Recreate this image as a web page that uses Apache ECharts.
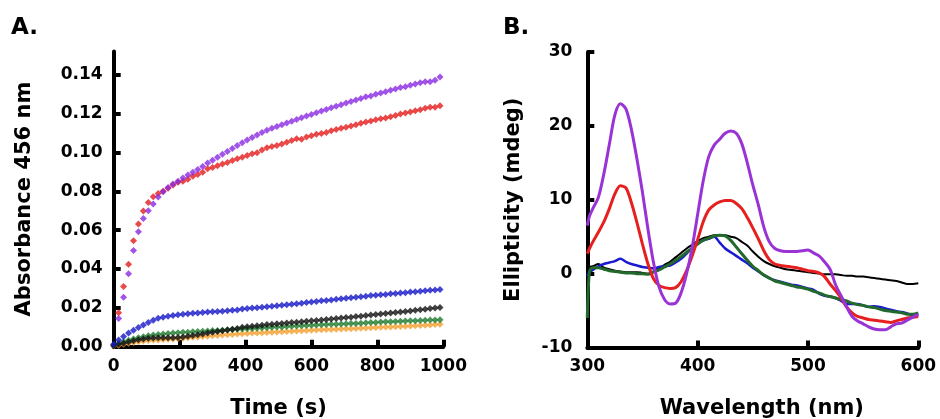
<!DOCTYPE html>
<html>
<head>
<meta charset="utf-8">
<script src="https://cdn.jsdelivr.net/npm/echarts@6/dist/echarts.min.js"></script>
<style>
html,body{margin:0;padding:0;background:#fff;}
#chart{width:940px;height:419px;}
</style>
</head>
<body>
<div id="chart"></div>
<script>
// ---------- Panel A: Absorbance 456 nm vs Time (s) ----------
const timeS = [0,15,30,45,60,75,90,105,120,135,150,165,180,195,210,225,240,255,270,285,300,315,330,345,360,375,390,405,420,435,450,465,480,495,510,525,540,555,570,585,600,615,630,645,660,675,690,705,720,735,750,765,780,795,810,825,840,855,870,885,900,915,930,945,960,975,990];

const absPurple = [null,0.0145,0.0255,0.0375,0.0495,0.0592,0.0660,0.0700,0.0735,0.0770,0.0798,0.0820,0.0838,0.0852,0.0868,0.0884,0.0898,0.0912,0.0928,0.0945,0.0960,0.0975,0.0990,0.1005,0.1020,0.1035,0.1050,0.1064,0.1077,0.1090,0.1102,0.1114,0.1124,0.1134,0.1143,0.1152,0.1160,0.1169,0.1178,0.1187,0.1195,0.1204,0.1213,0.1221,0.1230,0.1238,0.1246,0.1254,0.1262,0.1270,0.1278,0.1286,0.1290,0.1300,0.1306,0.1312,0.1320,0.1326,0.1334,0.1338,0.1346,0.1352,0.1358,0.1364,0.1364,0.1372,0.1388];
const absRed = [null,0.0175,0.0310,0.0425,0.0545,0.0632,0.0698,0.0742,0.0772,0.0788,0.0800,0.0815,0.0832,0.0846,0.0852,0.0862,0.0878,0.0886,0.0898,0.0916,0.0922,0.0931,0.0941,0.0948,0.0959,0.0968,0.0975,0.0984,0.0993,0.0998,0.1013,0.1024,0.1030,0.1036,0.1044,0.1052,0.1062,0.1070,0.1068,0.1079,0.1086,0.1093,0.1097,0.1103,0.1111,0.1118,0.1125,0.1130,0.1136,0.1142,0.1150,0.1156,0.1162,0.1168,0.1173,0.1177,0.1184,0.1190,0.1198,0.1203,0.1208,0.1214,0.1220,0.1228,0.1232,0.1232,0.1240];
const absBlue = [0.0012,0.0035,0.0052,0.0070,0.0085,0.0099,0.0112,0.0124,0.0136,0.0146,0.0152,0.0157,0.0161,0.0164,0.0167,0.0170,0.0172,0.0174,0.0176,0.0178,0.0180,0.0181,0.0183,0.0185,0.0187,0.0189,0.0194,0.0197,0.0199,0.0201,0.0203,0.0206,0.0208,0.0211,0.0213,0.0216,0.0218,0.0221,0.0224,0.0227,0.0230,0.0233,0.0236,0.0238,0.0241,0.0244,0.0247,0.0249,0.0252,0.0255,0.0257,0.0260,0.0263,0.0265,0.0267,0.0269,0.0272,0.0274,0.0276,0.0278,0.0281,0.0283,0.0285,0.0288,0.0290,0.0292,0.0295];
const absBlack = [0.0005,0.0012,0.0018,0.0024,0.0030,0.0036,0.0040,0.0043,0.0045,0.0046,0.0046,0.0046,0.0046,0.0047,0.0050,0.0054,0.0058,0.0062,0.0066,0.0070,0.0074,0.0078,0.0082,0.0086,0.0090,0.0094,0.0100,0.0103,0.0105,0.0108,0.0111,0.0114,0.0116,0.0118,0.0120,0.0122,0.0124,0.0126,0.0128,0.0131,0.0133,0.0135,0.0137,0.0140,0.0142,0.0145,0.0148,0.0150,0.0152,0.0155,0.0157,0.0160,0.0163,0.0166,0.0168,0.0171,0.0173,0.0176,0.0178,0.0181,0.0184,0.0187,0.0190,0.0193,0.0196,0.0199,0.0202];
const absGreen = [0.0010,0.0018,0.0026,0.0033,0.0040,0.0046,0.0051,0.0056,0.0060,0.0063,0.0066,0.0068,0.0070,0.0072,0.0074,0.0075,0.0077,0.0078,0.0080,0.0081,0.0083,0.0084,0.0085,0.0087,0.0088,0.0090,0.0091,0.0092,0.0094,0.0095,0.0097,0.0098,0.0100,0.0101,0.0102,0.0104,0.0105,0.0107,0.0108,0.0109,0.0111,0.0112,0.0113,0.0114,0.0115,0.0116,0.0117,0.0118,0.0119,0.0120,0.0121,0.0123,0.0124,0.0125,0.0127,0.0128,0.0129,0.0130,0.0131,0.0132,0.0133,0.0134,0.0135,0.0136,0.0137,0.0138,0.0139];
const absOrange = [0.0003,0.0008,0.0013,0.0018,0.0022,0.0026,0.0029,0.0032,0.0034,0.0035,0.0037,0.0038,0.0040,0.0042,0.0044,0.0046,0.0048,0.0050,0.0052,0.0054,0.0056,0.0058,0.0060,0.0062,0.0063,0.0065,0.0067,0.0068,0.0070,0.0071,0.0072,0.0073,0.0075,0.0076,0.0077,0.0078,0.0080,0.0081,0.0082,0.0084,0.0085,0.0086,0.0087,0.0088,0.0089,0.0090,0.0091,0.0092,0.0093,0.0094,0.0095,0.0096,0.0097,0.0099,0.0100,0.0101,0.0102,0.0103,0.0104,0.0105,0.0107,0.0108,0.0109,0.0111,0.0112,0.0114,0.0115];

const yTicksA = [0,0.02,0.04,0.06,0.08,0.10,0.12,0.14];
const yLabelsA = ['0.00','0.02','0.04','0.06','0.08','0.10','0.12','0.14'];
const xTicksA = [0,200,400,600,800,1000];

// ---------- Panel B: Ellipticity (mdeg) vs Wavelength (nm) ----------
const wavelengthNm = [300,302,305,310,315,320,325,330,335,340,345,350,355,360,365,370,375,380,385,390,395,400,405,410,415,420,425,430,435,440,445,450,455,460,465,470,475,480,485,490,495,500,505,510,515,520,525,530,535,540,545,550,555,560,565,570,575,580,585,590,595,600];

const cdPurple = [6.5,7.8,8.8,10.3,13.5,17.5,21.5,23.0,22.3,19.5,15.5,11.0,6.0,1.5,-1.8,-3.5,-4.1,-4.0,-2.6,0.0,3.5,8.0,12.5,15.8,17.4,18.2,19.0,19.3,19.0,17.6,15.0,12.0,9.3,6.3,4.3,3.4,3.1,3.0,3.0,3.0,3.1,3.2,2.8,2.4,1.6,0.6,-1.5,-3.0,-4.5,-5.8,-6.4,-6.8,-7.2,-7.5,-7.6,-7.6,-7.2,-6.8,-6.7,-6.3,-5.9,-5.5];
const cdRed = [2.7,3.4,4.3,5.6,7.0,8.8,10.8,11.9,11.6,9.6,6.9,4.0,1.3,-0.7,-1.6,-1.9,-2.0,-1.9,-1.1,0.4,2.4,4.6,7.0,8.6,9.3,9.7,9.9,9.9,9.5,8.8,7.6,6.2,4.7,3.1,1.9,1.3,1.1,1.0,0.9,0.8,0.6,0.4,0.3,0.1,-0.4,-1.4,-2.3,-3.3,-4.5,-5.3,-5.8,-6.0,-6.2,-6.3,-6.4,-6.5,-6.6,-6.4,-6.2,-6.0,-5.9,-5.8];
const cdBlack = [0.3,0.9,1.0,1.3,0.8,0.6,0.4,0.3,0.2,0.2,0.2,0.1,0.0,0.3,0.7,1.2,1.6,2.2,2.8,3.4,3.9,4.4,4.8,5.0,5.2,5.2,5.2,5.0,4.8,4.3,3.8,3.0,2.3,1.7,1.3,1.0,0.8,0.6,0.5,0.4,0.3,0.2,0.1,0.0,-0.1,-0.1,-0.1,-0.2,-0.3,-0.3,-0.4,-0.4,-0.5,-0.6,-0.7,-0.8,-0.9,-1.0,-1.2,-1.4,-1.4,-1.3];
const cdBlue = [-0.3,0.2,0.5,1.0,1.3,1.5,1.7,2.0,1.6,1.3,1.1,0.9,0.8,0.7,0.9,1.0,1.1,1.5,2.0,2.7,3.5,4.2,4.5,4.7,5.0,4.2,3.4,2.9,2.4,1.9,1.4,0.8,0.3,-0.2,-0.6,-0.9,-1.1,-1.3,-1.5,-1.6,-1.8,-2.0,-2.2,-2.7,-3.0,-3.1,-3.3,-3.7,-4.1,-4.1,-4.1,-4.3,-4.5,-4.4,-4.5,-4.7,-4.9,-5.1,-5.2,-5.4,-5.6,-5.6];
const cdGreen = [-6.0,0.3,0.8,0.8,0.6,0.4,0.3,0.2,0.1,0.1,0.0,0.0,-0.1,0.2,0.5,0.9,1.3,1.8,2.3,2.9,3.4,4.0,4.5,4.8,5.1,5.2,5.1,4.5,3.6,2.7,1.8,1.0,0.4,-0.2,-0.6,-1.0,-1.2,-1.4,-1.6,-1.8,-1.9,-2.1,-2.4,-2.6,-2.9,-3.1,-3.3,-3.5,-3.7,-4.0,-4.2,-4.3,-4.5,-4.6,-4.8,-5.0,-5.1,-5.2,-5.3,-5.5,-5.5,-5.3];

const yTicksB = [-10,0,10,20,30];
const xTicksB = [300,400,500,600];

// ---------- build ----------
const FONT = 'DejaVu Sans';
const pairs = (xs, ys) => xs.map((x, i) => [x, ys[i]]);
const tickStyle = {show: true, inside: true, length: 7, lineStyle: {color: '#000', width: 4}};
const axisCommon = {
  axisLine: {show: true, onZero: false, lineStyle: {color: '#000', width: 4}},
  axisTick: tickStyle,
  splitLine: {show: false},
  nameLocation: 'middle',
  nameTextStyle: {color: '#000', fontSize: 21, fontWeight: 'bold', fontFamily: FONT}
};
const lbl = (extra) => Object.assign({color: '#000', fontSize: 17, fontWeight: 'bold', fontFamily: FONT, margin: 11}, extra || {});

const scatterA = (name, data, color) => ({
  name, type: 'scatter', xAxisIndex: 0, yAxisIndex: 0,
  data: pairs(timeS, data), symbol: 'diamond', symbolSize: 7,
  itemStyle: {color: color}, silent: true
});
const lineB = (name, data, color, w) => ({
  name, type: 'line', xAxisIndex: 1, yAxisIndex: 1,
  data: pairs(wavelengthNm, data), showSymbol: false, smooth: 0.3,
  lineStyle: {color: color, width: w}, silent: true
});

const chart = echarts.init(document.getElementById('chart'), null, {renderer: 'canvas'});
chart.setOption({
  animation: false,
  backgroundColor: '#fff',
  title: [
    {text: 'A.', left: 11, top: 17, padding: 0, textStyle: {fontSize: 23, fontWeight: 'bold', fontFamily: FONT, color: '#000'}},
    {text: 'B.', left: 503, top: 17, padding: 0, textStyle: {fontSize: 23, fontWeight: 'bold', fontFamily: FONT, color: '#000'}}
  ],
  grid: [
    {left: 113.7, top: 51.4, width: 329.6, height: 295.3, outerBoundsMode: 'none'},
    {left: 587.3, top: 52, width: 331, height: 295.5, outerBoundsMode: 'none'}
  ],
  xAxis: [
    Object.assign({}, axisCommon, {
      type: 'value', gridIndex: 0, min: 0, max: 1000, interval: 200,
      axisLabel: lbl({formatter: (v) => xTicksA.indexOf(v) >= 0 ? String(v) : ''}),
      name: 'Time (s)', nameGap: 51
    }),
    Object.assign({}, axisCommon, {
      type: 'value', gridIndex: 1, min: 300, max: 600, interval: 100,
      axisLabel: lbl({formatter: (v) => xTicksB.indexOf(v) >= 0 ? String(v) : ''}),
      name: 'Wavelength (nm)', nameGap: 51,
      nameTextStyle: Object.assign({}, axisCommon.nameTextStyle, {padding: [0, 0, 0, 18]})
    })
  ],
  yAxis: [
    Object.assign({}, axisCommon, {
      type: 'value', gridIndex: 0, min: 0, max: 0.152, interval: 0.02,
      axisLabel: lbl({showMaxLabel: false, formatter: (v) => {
        const k = yTicksA.findIndex(t => Math.abs(t - v) < 1e-9);
        return k >= 0 ? yLabelsA[k] : '';
      }}),
      name: 'Absorbance 456 nm', nameGap: 79
    }),
    Object.assign({}, axisCommon, {
      type: 'value', gridIndex: 1, min: -10, max: 30, interval: 10,
      axisLabel: lbl({margin: 15, formatter: (v) => yTicksB.indexOf(v) >= 0 ? String(v) : ''}),
      name: 'Ellipticity (mdeg)', nameGap: 63
    })
  ],
  series: [
    scatterA('orange', absOrange, '#f4a030'),
    scatterA('green', absGreen, '#1f7a2e'),
    scatterA('black', absBlack, '#111111'),
    scatterA('blue', absBlue, '#1616c8'),
    scatterA('red', absRed, '#e51c1c'),
    scatterA('purple', absPurple, '#8a2be2'),
    lineB('black', cdBlack, '#000000', 2),
    lineB('blue', cdBlue, '#1a1ad0', 2.5),
    lineB('green', cdGreen, '#22692c', 3),
    lineB('red', cdRed, '#e62020', 3),
    lineB('purple', cdPurple, '#9a33d6', 3)
  ]
});
</script>
</body>
</html>
